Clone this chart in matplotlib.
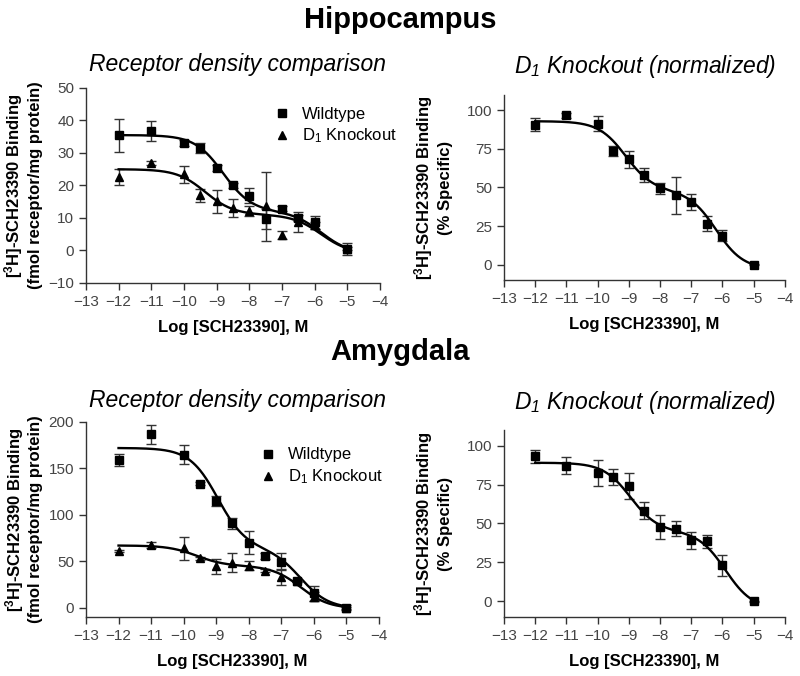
import numpy as np
import matplotlib
matplotlib.use("Agg")
import matplotlib.pyplot as plt

plt.rcParams['font.family'] = ['Liberation Sans', 'DejaVu Sans']
plt.rcParams['mathtext.default'] = 'regular'

# log concentrations (M)
logc = [-12, -11, -10, -9.5, -9, -8.5, -8, -7.5, -7, -6.5, -6, -5]

# Hippocampus, receptor density (fmol receptor/mg protein)
hip_wt = [35.4, 36.7, 33.1, 31.5, 25.4, 20.1, 16.9, 9.7, 12.8, 10.0, 8.7, 0.5]
hip_wt_err = [5.2, 3.0, 1.0, 1.5, 0.8, 0.8, 2.2, 3.0, 0.8, 1.0, 2.0, 1.8]
hip_ko = [22.6, 26.9, 23.5, 17.0, 15.1, 13.1, 12.1, 13.6, 4.7, 8.7, 7.7, 0.5]
hip_ko_err = [2.4, 0.5, 2.6, 2.0, 3.6, 2.7, 1.5, 10.6, 1.3, 3.0, 1.0, 0.5]

# Hippocampus, D1 knockout normalized (% specific)
hip_norm = [90.8, 96.8, 91.4, 73.5, 68.2, 58.1, 49.5, 44.9, 40.9, 26.5, 18.7, 0.0]
hip_norm_err = [4.3, 1.5, 4.7, 3.4, 5.5, 4.6, 3.5, 12.0, 5.2, 4.8, 3.5, 0.5]

# Amygdala, receptor density
amy_wt = [158.8, 186.7, 164.9, 133.7, 114.7, 90.7, 69.9, 55.9, 49.5, 28.7, 15.4, 0.0]
amy_wt_err = [6.2, 10.0, 10.0, 2.0, 5.3, 6.0, 12.5, 3.0, 8.9, 1.5, 8.0, 3.0]
amy_ko = [61.3, 67.4, 63.8, 53.0, 44.8, 48.4, 45.2, 39.8, 33.3, 28.7, 11.8, 0.0]
amy_ko_err = [1.0, 3.6, 12.0, 1.5, 8.0, 10.0, 5.0, 1.5, 8.4, 1.5, 5.0, 1.0]

# Amygdala, D1 knockout normalized
amy_norm = [93.1, 87.2, 82.4, 79.9, 73.9, 58.2, 47.8, 46.5, 39.2, 38.5, 23.1, 0.0]
amy_norm_err = [4.3, 5.5, 8.5, 5.2, 8.3, 5.4, 7.5, 4.8, 5.5, 4.2, 6.5, 0.5]

# two-site competition fits: bottom, amp1, logIC50_1, amp2, logIC50_2
fit_hip_wt = (-1.0, 23.5, -8.8, 13.0, -5.8)
fit_hip_ko = (-1.0, 14.0, -9.35, 12.0, -5.8)
fit_hip_norm = (-3.0, 45.0, -9.1, 51.0, -6.2)
fit_amy_wt = (-1.0, 108.0, -8.95, 65.0, -6.4)
fit_amy_ko = (-1.0, 22.0, -9.6, 46.0, -6.4)
fit_amy_norm = (-5.0, 44.0, -8.95, 50.0, -5.9)


def two_site(x, p):
    b, a1, c1, a2, c2 = p
    return b + a1 / (1 + 10 ** (x - c1)) + a2 / (1 + 10 ** (x - c2))


xs = np.linspace(-12, -5, 300)
tick_col = '#444444'


def style_axes(ax, ylim, yticks):
    ax.set_xlim(-13, -4)
    ax.set_ylim(*ylim)
    ax.set_xticks(range(-13, -3))
    ax.set_yticks(yticks)
    ax.spines['top'].set_visible(False)
    ax.spines['right'].set_visible(False)
    for s in ('left', 'bottom'):
        ax.spines[s].set_color('#333333')
        ax.spines[s].set_linewidth(1.0)
    ax.tick_params(direction='out', length=5, width=1, colors='#333333',
                   labelsize=11, labelcolor=tick_col)
    ax.set_xlabel('Log [SCH23390], M', fontsize=12, fontweight='bold', labelpad=8)


def draw_series(ax, y, err, fit, marker, ms):
    ax.errorbar(logc, y, yerr=err, fmt='none', ecolor='#333333', elinewidth=1,
                capsize=3.5, capthick=1, zorder=2)
    ax.plot(logc, y, linestyle='none', marker=marker, color='black', markersize=ms, zorder=3)
    ax.plot(xs, two_site(xs, fit), color='black', linewidth=1.7, zorder=2)


fig = plt.figure(figsize=(8, 6.76), dpi=100)

ax1 = fig.add_axes([0.1075, 0.5814, 0.3675, 0.2885])
ax2 = fig.add_axes([0.63, 0.5858, 0.351, 0.2737])
ax3 = fig.add_axes([0.1075, 0.0873, 0.366, 0.2885])
ax4 = fig.add_axes([0.63, 0.0873, 0.351, 0.2766])

dens_label = '[$^3$H]-SCH23390 Binding\n(fmol receptor/mg protein)'
norm_label = '[$^3$H]-SCH23390 Binding\n(% Specific)'

# Hippocampus receptor density
draw_series(ax1, hip_wt, hip_wt_err, fit_hip_wt, 's', 6)
draw_series(ax1, hip_ko, hip_ko_err, fit_hip_ko, '^', 5.5)
style_axes(ax1, (-10, 50), range(-10, 51, 10))
ax1.set_ylabel(dens_label, fontsize=12, fontweight='bold', labelpad=4)

# Hippocampus normalized
draw_series(ax2, hip_norm, hip_norm_err, fit_hip_norm, 's', 6)
style_axes(ax2, (-10, 110), [0, 25, 50, 75, 100])
ax2.set_ylabel(norm_label, fontsize=12, fontweight='bold', labelpad=10)

# Amygdala receptor density
draw_series(ax3, amy_wt, amy_wt_err, fit_amy_wt, 's', 6)
draw_series(ax3, amy_ko, amy_ko_err, fit_amy_ko, '^', 5.5)
style_axes(ax3, (-10, 200), [0, 50, 100, 150, 200])
ax3.set_ylabel(dens_label, fontsize=12, fontweight='bold', labelpad=4)

# Amygdala normalized
draw_series(ax4, amy_norm, amy_norm_err, fit_amy_norm, 's', 6)
style_axes(ax4, (-10, 110), [0, 25, 50, 75, 100])
ax4.set_ylabel(norm_label, fontsize=12, fontweight='bold', labelpad=10)

# legends (marker + text, no frame)
for ax, anchor in ((ax1, (1.107, 0.981)), (ax3, (1.066, 0.946))):
    h_wt = plt.Line2D([], [], linestyle='none', marker='s', color='black', markersize=6)
    h_ko = plt.Line2D([], [], linestyle='none', marker='^', color='black', markersize=5.5)
    ax.legend([h_wt, h_ko], ['Wildtype', 'D$_1$ Knockout'], loc='upper right',
              bbox_to_anchor=anchor, frameon=False, fontsize=12,
              handletextpad=0.6, labelspacing=0.3, handlelength=1.2)

# titles
fig.text(0.5, 0.970, 'Hippocampus', ha='center', va='center', fontsize=21, fontweight='bold')
fig.text(0.5, 0.479, 'Amygdala', ha='center', va='center', fontsize=21, fontweight='bold')
fig.text(0.297, 0.904, 'Receptor density comparison', ha='center', va='center',
         fontsize=16.5, style='italic')
fig.text(0.806, 0.901, 'D$_1$ Knockout (normalized)', ha='center', va='center',
         fontsize=16.5, style='italic')
fig.text(0.297, 0.408, 'Receptor density comparison', ha='center', va='center',
         fontsize=16.5, style='italic')
fig.text(0.806, 0.405, 'D$_1$ Knockout (normalized)', ha='center', va='center',
         fontsize=16.5, style='italic')

fig.savefig('out.png', dpi=100)
